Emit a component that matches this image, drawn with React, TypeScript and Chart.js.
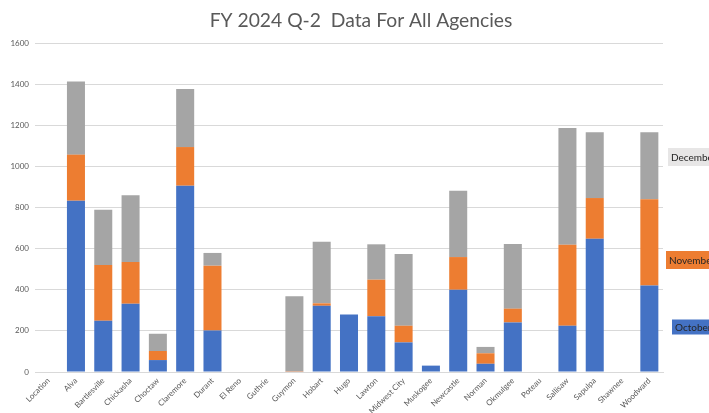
import React, { useEffect, useRef } from "react";
import { Chart, registerables } from "chart.js";

Chart.register(...registerables);

const titleText = "FY 2024 Q-2  Data For All Agencies";
const categories = ["Location", "Alva", "Bartlesville", "Chickasha", "Choctaw", "Claremore", "Durant", "El Reno", "Guthrie", "Guymon", "Hobart", "Hugo", "Lawton", "Midwest City", "Muskogee", "Newcastle", "Norman", "Okmulgee", "Poteau", "Sallisaw", "Sapulpa", "Shawnee", "Woodward"];
const seriesNames = ["October", "November", "December"];
const october = [0, 833, 249, 332, 58, 906, 202, 0, 0, 2, 322, 280, 271, 144, 31, 400, 40, 241, 0, 225, 648, 0, 421];
const november = [0, 224, 271, 203, 44, 188, 315, 0, 0, 2, 12, 0, 178, 81, 0, 159, 51, 67, 0, 394, 198, 0, 419];
const december = [0, 356, 269, 324, 84, 282, 62, 0, 0, 364, 300, 0, 172, 349, 0, 323, 31, 315, 0, 568, 320, 0, 326];
const yTicks = [0, 200, 400, 600, 800, 1000, 1200, 1400, 1600];

const colors = ["#4472C4", "#ED7D31", "#A5A5A5"];
const boxBg = ["#4472C4", "#ED7D31", "#E7E6E6"];
const FONT = "Lato, 'Open Sans', sans-serif";

const titleAndLegend = {
  id: "titleAndLegend",
  afterDraw(chart: any) {
    const ctx = chart.ctx;
    const right = chart.chartArea.right;
    ctx.save();
    // title
    ctx.font = "19.3px " + FONT;
    ctx.fillStyle = "#595959";
    ctx.textAlign = "center";
    ctx.textBaseline = "alphabetic";
    ctx.fillText(titleText, 361, 26.5);
    // floating series labels at the right
    const boxes = [
      { i: 0, dx: 9, cy: 327, h: 15 },
      { i: 1, dx: 3, cy: 260, h: 18 },
      { i: 2, dx: 5, cy: 157, h: 18 },
    ];
    ctx.font = "10px " + FONT;
    ctx.textBaseline = "middle";
    ctx.textAlign = "left";
    for (const b of boxes) {
      const x = right + b.dx;
      ctx.fillStyle = boxBg[b.i];
      ctx.fillRect(x, b.cy - b.h / 2, 80, b.h);
      ctx.fillStyle = "#262626";
      ctx.fillText(seriesNames[b.i], x + 3, b.cy + 0.5);
    }
    ctx.restore();
  },
};

export default function App() {
  const ref = useRef<HTMLCanvasElement>(null);
  useEffect(() => {
    if (!ref.current) return;
    const data = [october, november, december];
    const chart = new Chart(ref.current, {
      type: "bar",
      data: {
        labels: categories,
        datasets: seriesNames.map((n, i) => ({
          label: n,
          data: data[i],
          backgroundColor: colors[i],
          borderWidth: 0,
          categoryPercentage: 1,
          barPercentage: 0.66,
        })),
      },
      options: {
        animation: false,
        responsive: true,
        maintainAspectRatio: false,
        layout: { padding: { left: 0, right: 0, top: 43, bottom: 0 } },
        plugins: {
          legend: { display: false },
          tooltip: { enabled: false },
          title: { display: false },
        },
        scales: {
          x: {
            stacked: true,
            grid: { display: false, drawTicks: false },
            border: { display: true, color: "#D9D9D9", width: 1 },
            ticks: {
              color: "#595959",
              font: { family: FONT, size: 8 },
              minRotation: 45,
              maxRotation: 45,
              padding: 4,
              autoSkip: false,
            },
            afterFit: (s: any) => { s.height = 41; },
          },
          y: {
            stacked: true,
            min: 0,
            max: 1600,
            afterBuildTicks: (s: any) => { s.ticks = yTicks.map((v) => ({ value: v })); },
            grid: { color: "#D9D9D9", drawTicks: false },
            border: { display: false },
            ticks: {
              color: "#595959",
              font: { family: FONT, size: 8 },
              padding: 6,
              callback: (v: any) => String(v),
            },
            afterFit: (s: any) => { s.width = 35; },
          },
          yRight: {
            position: "right",
            min: 0,
            max: 1600,
            grid: { display: false, drawTicks: false },
            border: { display: false },
            ticks: { display: false },
            afterFit: (s: any) => { s.width = 46; },
          },
        },
      },
      plugins: [titleAndLegend],
    });
    return () => chart.destroy();
  }, []);
  return (
    <div style={{ position: "fixed", left: 0, top: 0, width: 709, height: 413, background: "#fff" }}>
      <canvas ref={ref} />
    </div>
  );
}
